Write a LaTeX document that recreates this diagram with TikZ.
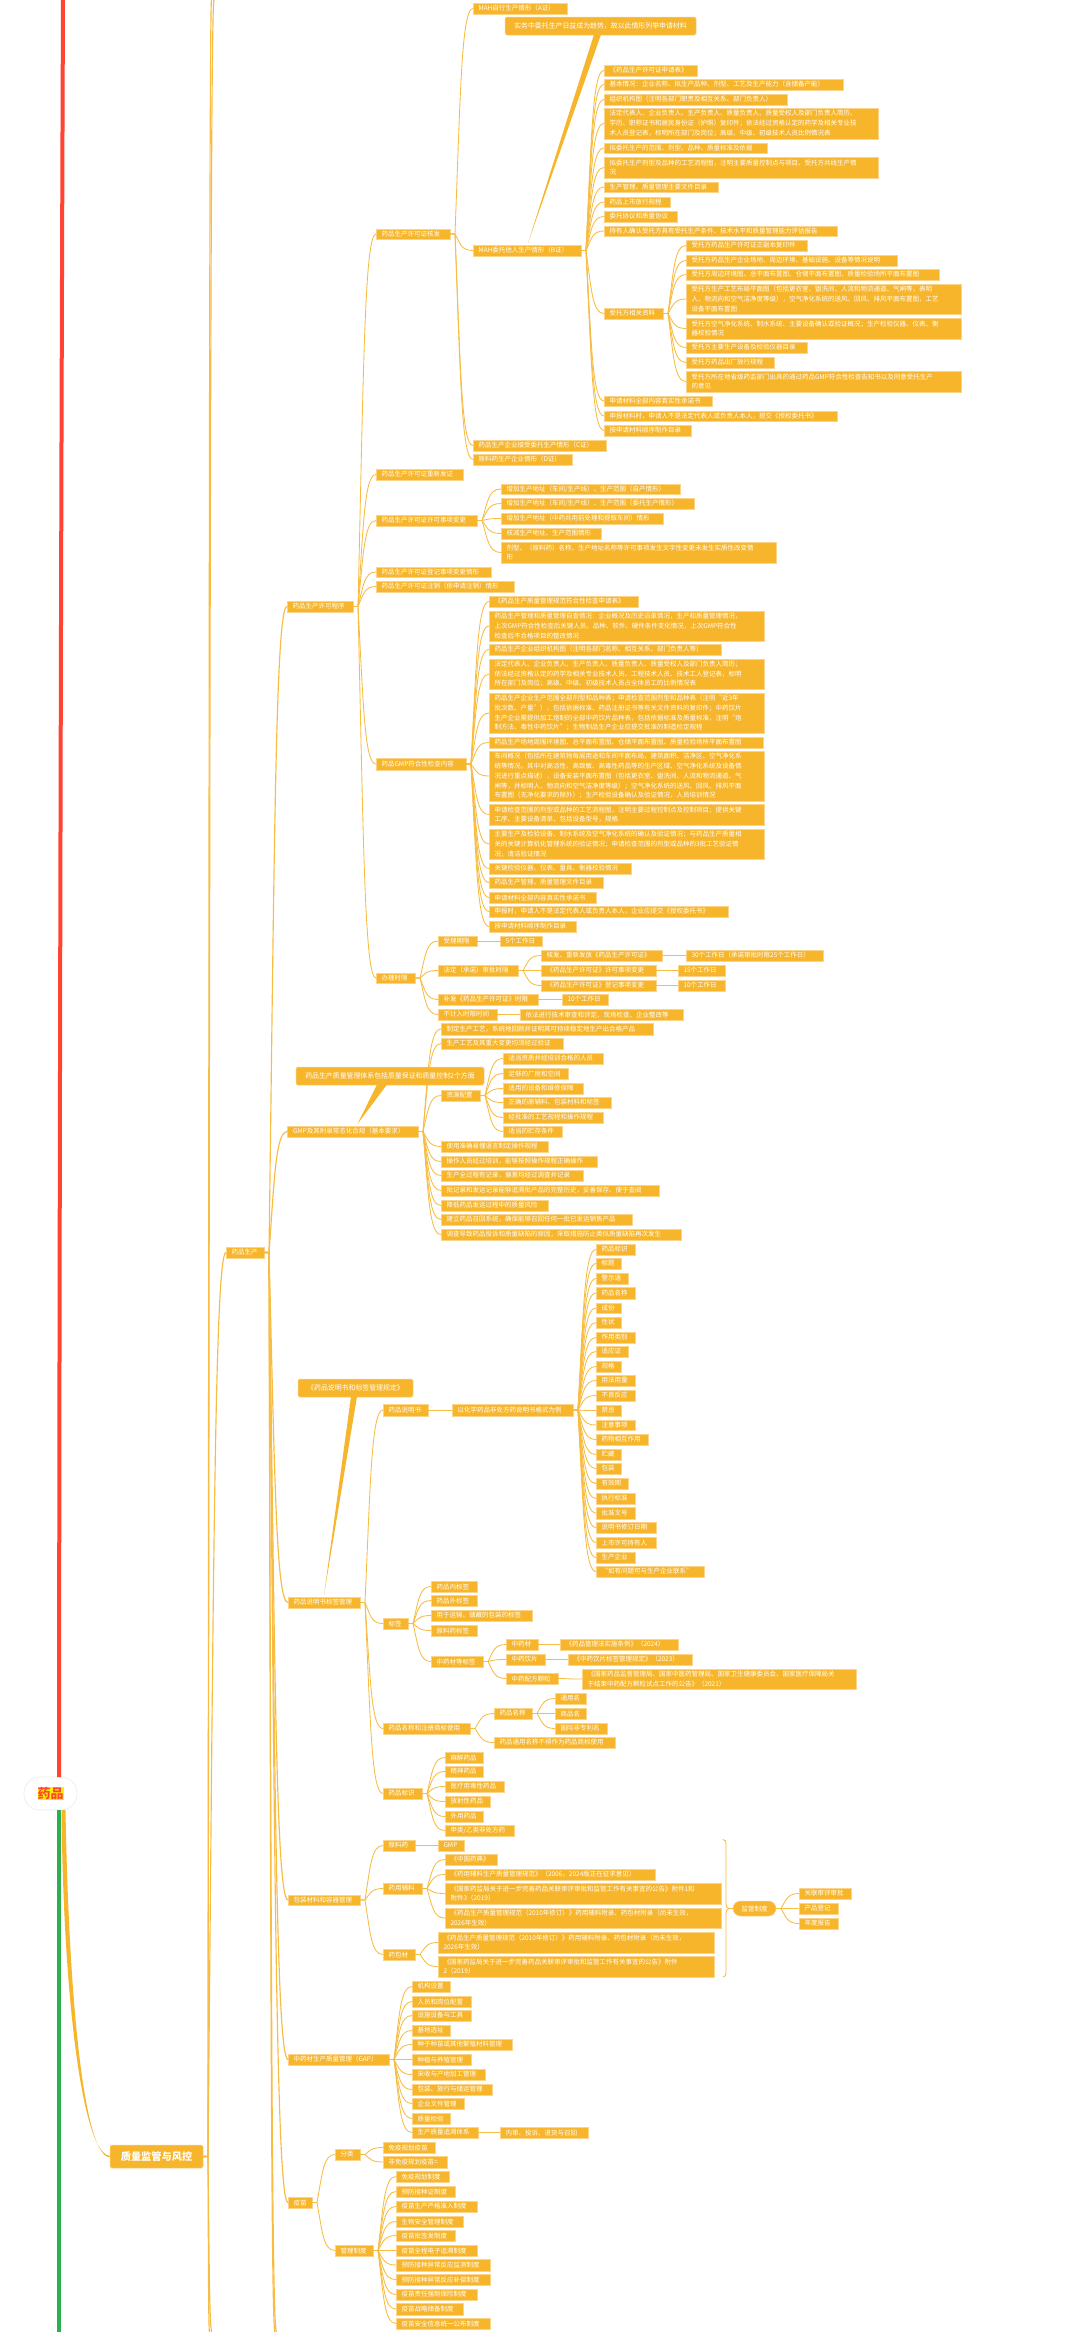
\documentclass[tikz,border=0pt]{standalone}
\usepackage{fontspec}
\setmainfont{Noto Sans CJK SC}
\usetikzlibrary{calc}
\definecolor{orangeF}{HTML}{F7B52B}
\definecolor{orangeL}{HTML}{FBD48A}
\definecolor{lineO}{HTML}{F8BC42}
\definecolor{redL}{HTML}{FF4433}
\definecolor{greenL}{HTML}{2BB04F}
\tikzset{
 bx/.style={rectangle,fill=orangeF,draw=orangeL,line width=.5pt,inner xsep=5.5pt,inner ysep=0pt,outer sep=0pt,
   text=white,align=left,font=\fontsize{6.5}{9.75}\selectfont},
 callout/.style={bx,rounded corners=1.5pt,font=\fontsize{6.9}{9.75}\selectfont,align=center},
 topicbox/.style={bx,rounded corners=1.5pt,font=\fontsize{10.2}{12}\selectfont\bfseries,align=center},
 pillbox/.style={bx,rounded corners=7.4pt,align=center},
 rootpill/.style={rectangle,rounded corners=16pt,fill=white,draw=black!7,line width=.7pt,inner sep=0pt,outer sep=0pt,
   minimum width=53pt,minimum height=33pt,align=center},
 con/.style={draw=lineO,line width=.85pt,line cap=round},
 conb/.style={draw=lineO,line width=1.15pt,line cap=round},
 freeend/.style={inner sep=0pt,minimum size=0pt,outer sep=0pt}
}
\newcommand\nd[7][bx]{%
 \pgfmathsetmacro\nw{#5-#3}\pgfmathsetmacro\nh{#6-#4}%
 \pgfmathsetmacro\cxx{(#3+#5)/2}\pgfmathsetmacro\cyy{(#4+#6)/2}%
 \node[#1,minimum width=\nw pt,minimum height=\nh pt,text width=\nw pt-11pt] (#2) at (\cxx,\cyy) {#7};}
\newcommand\lk[3][con]{%
 \draw[#1] let \p1=(#2.east),\p2=(#3.west),\n1={\x2-\x1-5pt},\n2={\y2-\y1} in
  (\p1) -- (\x1+5pt,\y1) .. controls (\x1+5pt+.3*\n1,\y1+.62*\n2) and (\x1+5pt+.36*\n1,\y2) .. (\p2);}
\newcommand\lks[3][con]{\foreach \cc in {#3}{\lk[#1]{#2}{\cc}}}
\begin{document}
\begin{tikzpicture}[x=1pt,y=-1pt]
\useasboundingbox (0,0) rectangle (1080,2332);
\fill[white] (0,0) rectangle (1080,2332);
% free ends of branches running off the page
\coordinate (rtop) at (63,0);
\coordinate (gbot) at (59,2332);
\node[freeend] (qt1) at (211.5,0) {};
\node[freeend] (qt2) at (214,0) {};
\node[freeend] (qb1) at (209.5,2332) {};
\node[freeend] (qb2) at (212,2332) {};
\node[freeend] (mb1) at (275,2332) {};
\node[freeend] (mb2) at (276.5,2332) {};
% root
\node[rootpill] (root) at (50.5,1793.5) {\setlength{\fboxsep}{0pt}\colorbox{yellow}{\fontsize{13}{15}\selectfont\bfseries\textcolor{redL}{药品}}};
\draw[redL,line width=4pt] (root.north -| gbot) .. controls (59.5,1200) and (61,500) .. (rtop);
\draw[greenL,line width=4pt] (root.south -| gbot) -- (gbot);
\nd[topicbox]{q}{110}{2145}{203}{2168}{质量监管与风控}
\fill[orangeF] (61.5,1810) .. controls (63.5,2010) and (84,2155.2) .. ($(q.west)+(0,-.7)$) -- ($(q.west)+(0,.7)$) .. controls (85,2158) and (69,2010) .. (65.5,1810) -- cycle;
\nd{m}{226}{1247}{264}{1258}{药品生产}
% level: programme
\nd{p}{287}{601}{353}{612}{药品生产许可程序}
\nd{hf}{376}{229}{450}{239}{药品生产许可证核发}
\nd{hA}{473}{3}{567}{14}{MAH自行生产情形（A证）}
\nd{hB}{473}{245}{581}{256}{MAH委托他人生产情形（B证）}
\nd{hC}{473}{440}{606}{451}{药品生产企业接受委托生产情形（C证）}
\nd{hD}{473}{454}{572}{465}{原料药生产企业情形（D证）}
\nd{b1}{604}{65}{697}{76}{《药品生产许可证申请表》}
\nd{b2}{604}{79}{843}{90}{基本情况：企业名称、拟生产品种、剂型、工艺及生产能力（含储备产能）}
\nd{b3}{604}{94}{787}{105}{组织机构图（注明各部门职责及相互关系、部门负责人）}
\nd{b4}{604}{108}{878}{139}{法定代表人、企业负责人、生产负责人、质量负责人、质量受权人及部门负责人简历、\\学历、职称证书和居民身份证（护照）复印件；依法经过资格认定的药学及相关专业技\\术人员登记表，标明所在部门及岗位；高级、中级、初级技术人员比例情况表}
\nd{b5}{604}{143}{767}{153}{拟委托生产的范围、剂型、品种、质量标准及依据}
\nd{b6}{604}{157}{878}{178}{拟委托生产剂型及品种的工艺流程图，注明主要质量控制点与项目、受托方共线生产情\\况}
\nd{b7}{604}{182}{718}{192}{生产管理、质量管理主要文件目录}
\nd{b8}{604}{197}{670}{207}{药品上市放行规程}
\nd{b9}{604}{211}{677}{222}{委托协议和质量协议}
\nd{b10}{604}{226}{837}{236}{持有人确认受托方具有受托生产条件、技术水平和质量管理能力评估报告}
\nd{b11}{604}{308}{663}{319}{受托方相关资料}
\nd{b12}{604}{396}{712}{406}{申请材料全部内容真实性承诺书}
\nd{b13}{604}{411}{837}{421}{申报材料时，申请人不是法定代表人或负责人本人，提交《授权委托书》}
\nd{b14}{604}{425}{691}{436}{按申请材料顺序制作目录}
\nd{t1}{686}{240}{807}{251}{受托方药品生产许可证正副本复印件}
\nd{t2}{686}{255}{897}{266}{受托方药品生产企业场地、周边环境、基础设施、设备等情况说明}
\nd{t3}{686}{269}{939}{280}{受托方周边环境图、总平面布置图、仓储平面布置图、质量检验场所平面布置图}
\nd{t4}{686}{284}{961}{314}{受托方生产工艺布局平面图（包括更衣室、盥洗间、人流和物流通道、气闸等，表明\\人、物流向和空气洁净度等级），空气净化系统的送风、回风、排风平面布置图，工艺\\设备平面布置图}
\nd{t5}{686}{318}{961}{339}{受托方空气净化系统、制水系统、主要设备确认或验证概况；生产检验仪器、仪表、衡\\器校验情况}
\nd{t6}{686}{342}{807}{353}{受托方主要生产设备及检验仪器目录}
\nd{t7}{686}{357}{774}{368}{受托方药品出厂放行规程}
\nd{t8}{686}{371}{961}{392}{受托方所在地省级药监部门出具的通过药品GMP符合性检查告知书以及同意受托生产\\的意见}
\nd{re}{376}{469}{463}{480}{药品生产许可证重新发证}
\nd{ch}{376}{515}{477}{526}{药品生产许可证许可事项变更}
\nd{c1}{501}{484}{680}{494}{增加生产地址（车间/生产线）、生产范围（自产情形）}
\nd{c2}{501}{498}{694}{509}{增加生产地址（车间/生产线）、生产范围（委托生产情形）}
\nd{c3}{501}{513}{663}{524}{增加生产地址（中药共用前处理和提取车间）情形}
\nd{c4}{501}{528}{601}{539}{核减生产地址、生产范围情形}
\nd{c5}{501}{542}{776}{563}{剂型、（原料药）名称、生产地址名称等许可事项发生文字性变更未发生实质性改变情\\形}
\nd{dj}{376}{567}{491}{577}{药品生产许可证登记事项变更情形}
\nd{zx}{376}{581}{514}{592}{药品生产许可证注销（依申请注销）情形}
\nd{g}{376}{758}{466}{770}{药品GMP符合性检查内容}
\nd{g1}{489}{596}{638}{607}{《药品生产质量管理规范符合性检查申请表》}
\nd{g2}{489}{611}{764}{641}{药品生产管理和质量管理自查情况：企业概况及历史沿革情况，生产和质量管理情况，\\上次GMP符合性检查后关键人员、品种、软件、硬件条件变化情况，上次GMP符合性\\检查后不合格项目的整改情况}
\nd{g3}{489}{644}{721}{655}{药品生产企业组织机构图（注明各部门名称、相互关系、部门负责人等）}
\nd{g4}{489}{659}{764}{689}{法定代表人、企业负责人、生产负责人、质量负责人、质量受权人及部门负责人简历；\\依法经过资格认定的药学及相关专业技术人员、工程技术人员、技术工人登记表，标明\\所在部门及岗位；高级、中级、初级技术人员占全体员工的比例情况表}
\nd{g5}{489}{693}{764}{733}{药品生产企业生产范围全部剂型和品种表；申请检查范围剂型和品种表（注明“近3年\\批次数、产量”），包括依据标准、药品注册证书等有关文件资料的复印件；中药饮片\\生产企业需提供加工炮制的全部中药饮片品种表，包括依据标准及质量标准，注明“炮\\制方法、毒性中药饮片”；生物制品生产企业应提交批准的制造检定规程}
\nd{g6}{489}{737}{763}{748}{药品生产场地周围环境图、总平面布置图、仓储平面布置图、质量检验场所平面布置图}
\nd{g7}{489}{751}{764}{801}{车间概况（包括所在建筑物每层用途和车间平面布局、建筑面积、洁净区、空气净化系\\统等情况。其中对高活性、高致敏、高毒性药品等的生产区域、空气净化系统及设备情\\况进行重点描述），设备安装平面布置图（包括更衣室、盥洗间、人流和物流通道、气\\闸等，并标明人、物流向和空气洁净度等级）；空气净化系统的送风、回风、排风平面\\布置图（无净化要求的除外）；生产检验设备确认及验证情况，人员培训情况}
\nd{g8}{489}{804}{764}{825}{申请检查范围的剂型或品种的工艺流程图，注明主要过程控制点及控制项目；提供关键\\工序、主要设备清单，包括设备型号，规格}
\nd{g9}{489}{829}{764}{859}{主要生产及检验设备、制水系统及空气净化系统的确认及验证情况；与药品生产质量相\\关的关键计算机化管理系统的验证情况；申请检查范围的剂型或品种的3批工艺验证情\\况，清洁验证情况}
\nd{g10}{489}{863}{631}{874}{关键检验仪器、仪表、量具、衡器校验情况}
\nd{g11}{489}{877}{603}{888}{药品生产管理、质量管理文件目录}
\nd{g12}{489}{892}{596}{903}{申请材料全部内容真实性承诺书}
\nd{g13}{489}{906}{728}{917}{申报时，申请人不是法定代表人或负责人本人，企业应提交《授权委托书》}
\nd{g14}{489}{921}{576}{932}{按申请材料顺序制作目录}
\nd{bl}{376}{973}{415}{983}{办理时限}
\nd{l1}{438}{936}{477}{946}{受理期限}
\nd{l1a}{500}{936}{542}{946}{5个工作日}
\nd{l2}{438}{965}{518}{976}{法定（承诺）审批时限}
\nd{l21}{541}{950}{662}{961}{核发、重新发放《药品生产许可证》}
\nd{l21a}{686}{950}{823}{961}{30个工作日（承诺审批时限25个工作日）}
\nd{l22}{541}{965}{656}{976}{《药品生产许可证》许可事项变更}
\nd{l22a}{678}{965}{725}{976}{15个工作日}
\nd{l23}{541}{980}{656}{991}{《药品生产许可证》登记事项变更}
\nd{l23a}{678}{980}{725}{991}{10个工作日}
\nd{l3}{438}{994}{538}{1005}{补发《药品生产许可证》时限}
\nd{l3a}{562}{994}{608}{1005}{10个工作日}
\nd{l4}{438}{1009}{497}{1020}{不计入时限时间}
\nd{l4a}{520}{1009}{683}{1020}{依法进行技术审查和评定、现场检查、企业整改等}
% GMP
\nd{gm}{287.5}{1126}{418}{1137}{GMP及其附录常态化合规（基本要求）}
\nd{m1}{441}{1023}{653}{1035}{制定生产工艺，系统地回顾并证明其可持续稳定地生产出合格产品}
\nd{m2}{441}{1038}{563}{1049}{生产工艺及其重大变更均须经过验证}
\nd{m3}{441}{1090}{480}{1101}{资源配置}
\nd{r1}{503}{1053}{603}{1064}{适当资质并经培训合格的人员}
\nd{r2}{503}{1068}{568}{1079}{足够的厂房和空间}
\nd{r3}{503}{1083}{583}{1094}{适用的设备和维修保障}
\nd{r4}{503}{1097}{611}{1108}{正确的原辅料、包装材料和标签}
\nd{r5}{503}{1112}{603}{1123}{经批准的工艺规程和操作规程}
\nd{r6}{503}{1126}{562}{1137}{适当的贮存条件}
\nd{m4}{441}{1141}{548}{1152}{使用准确易懂语言制定操作规程}
\nd{m5}{441}{1156}{597}{1167}{操作人员经过培训，能够按照操作规程正确操作}
\nd{m6}{441}{1170}{583}{1181}{生产全过程有记录，偏差均经过调查并记录}
\nd{m7}{441}{1185}{659}{1196}{批记录和发运记录能够追溯批产品的完整历史，妥善保存、便于查阅}
\nd{m8}{441}{1200}{548}{1211}{降低药品发运过程中的质量风险}
\nd{m9}{441}{1214}{632}{1225}{建立药品召回系统，确保能够召回任何一批已发运销售产品}
\nd{m10}{441}{1229}{681}{1240}{调查导致药品投诉和质量缺陷的原因，采取措施防止类似质量缺陷再次发生}
% labelling
\nd{la}{288}{1597}{360}{1608}{药品说明书标签管理}
\nd{ls}{383}{1404}{428}{1416}{药品说明书}
\nd{lt}{452}{1404}{573}{1416}{以化学药品非处方药说明书格式为例}
\nd{s1}{596}{1244}{635}{1255}{药品标识}
\nd{s2}{596}{1258}{621}{1269}{标题}
\nd{s3}{596}{1273}{628}{1284}{警示语}
\nd{s4}{596}{1287}{635}{1299}{药品名称}
\nd{s5}{596}{1303}{621}{1313}{成份}
\nd{s6}{596}{1317}{621}{1328}{性状}
\nd{s7}{596}{1332}{635}{1343}{作用类别}
\nd{s8}{596}{1346}{628}{1357}{适应证}
\nd{s9}{596}{1361}{621}{1372}{规格}
\nd{s10}{596}{1375}{635}{1386}{用法用量}
\nd{s11}{596}{1390}{635}{1401}{不良反应}
\nd{s12}{596}{1405}{621}{1416}{禁忌}
\nd{s13}{596}{1420}{635}{1430}{注意事项}
\nd{s14}{596}{1434}{648}{1445}{药物相互作用}
\nd{s15}{596}{1449}{621}{1460}{贮藏}
\nd{s16}{596}{1463}{621}{1474}{包装}
\nd{s17}{596}{1478}{628}{1489}{有效期}
\nd{s18}{596}{1493}{635}{1504}{执行标准}
\nd{s19}{596}{1507}{635}{1519}{批准文号}
\nd{s20}{596}{1522}{656}{1533}{说明书修订日期}
\nd{s21}{596}{1537}{656}{1548}{上市许可持有人}
\nd{s22}{596}{1552}{635}{1563}{生产企业}
\nd{s23}{596}{1566}{704}{1577}{“如有问题可与生产企业联系”}
\nd{lb}{383}{1618}{408}{1629}{标签}
\nd{lb1}{431}{1581}{477}{1592}{药品内标签}
\nd{lb2}{431}{1595}{477}{1606}{药品外标签}
\nd{lb3}{431}{1610}{532}{1621}{用于运输、储藏的包装的标签}
\nd{lb4}{431}{1625}{477}{1636}{原料药标签}
\nd{lb5}{431}{1656}{483}{1667}{中药材等标签}
\nd{z1}{506}{1639}{538}{1650}{中药材}
\nd{z1a}{560}{1639}{678}{1650}{《药品管理法实施条例》（2024）}
\nd{z2}{506}{1654}{545}{1665}{中药饮片}
\nd{z2a}{568}{1654}{692}{1665}{《中药饮片标签管理规定》（2023）}
\nd{z3}{506}{1673}{558}{1684}{中药配方颗粒}
\nd{z3a}{582}{1669}{856}{1689}{《国家药品监督管理局、国家中医药管理局、国家卫生健康委员会、国家医疗保障局关\\于结束中药配方颗粒试点工作的公告》（2021）}
\nd{n}{383}{1723}{470}{1734}{药品名称和注册商标使用}
\nd{n1}{494}{1708}{532}{1719}{药品名称}
\nd{n11}{555}{1693}{586}{1704}{通用名}
\nd{n12}{555}{1708}{586}{1719}{商品名}
\nd{n13}{555}{1723}{607}{1734}{国际非专利名}
\nd{n2}{494}{1737}{615}{1748}{药品通用名称不得作为药品商标使用}
\nd{bs}{383}{1788}{422}{1799}{药品标识}
\nd{bs1}{445}{1752}{483}{1763}{麻醉药品}
\nd{bs2}{445}{1766}{483}{1777}{精神药品}
\nd{bs3}{445}{1781}{504}{1792}{医疗用毒性药品}
\nd{bs4}{445}{1796}{490}{1807}{放射性药品}
\nd{bs5}{445}{1811}{483}{1822}{外用药品}
\nd{bs6}{445}{1825}{514}{1836}{甲类/乙类非处方药}
% packaging
\nd{pk}{288}{1895}{360}{1905}{包装材料和容器管理}
\nd{k1}{383}{1840}{415}{1851}{原料药}
\nd{k1a}{438}{1840}{464}{1851}{GMP}
\nd{k2}{383}{1883}{422}{1894}{药用辅料}
\nd{k21}{445}{1854}{497}{1865}{《中国药典》}
\nd{k22}{445}{1869}{655}{1880}{《药用辅料生产质量管理规范》（2006，2024版正在征求意见）}
\nd{k23}{445}{1883}{721}{1904}{《国家药监局关于进一步完善药品关联审评审批和监管工作有关事宜的公告》附件1和\\附件3（2019）}
\nd{k24}{445}{1908}{721}{1928}{《药品生产质量管理规范（2010年修订）》药用辅料附录、药包材附录（尚未生效，\\2026年生效）}
\nd{k3}{383}{1949}{415}{1960}{药包材}
\nd{k31}{438}{1932}{714}{1953}{《药品生产质量管理规范（2010年修订）》药用辅料附录、药包材附录（尚未生效，\\2026年生效）}
\nd{k32}{438}{1956}{714}{1977}{《国家药监局关于进一步完善药品关联审评审批和监管工作有关事宜的公告》附件\\2（2019）}
\nd[pillbox]{jg}{733}{1901}{776}{1916}{监管制度}
\nd{j1}{799}{1888}{851}{1899}{关联审评审批}
\nd{j2}{799}{1903}{838}{1914}{产品登记}
\nd{j3}{799}{1918}{838}{1929}{年度报告}
% GAP
\nd{ga}{288}{2054}{389}{2065}{中药材生产质量管理（GAP）}
\nd{a1}{412}{1981}{450}{1992}{机构设置}
\nd{a2}{412}{1996}{471}{2007}{人员和岗位配置}
\nd{a3}{412}{2010}{471}{2021}{设施设备与工具}
\nd{a4}{412}{2025}{450}{2036}{基地选址}
\nd{a5}{412}{2039}{512}{2050}{种子种苗或其他繁殖材料管理}
\nd{a6}{412}{2054}{471}{2065}{种植与养殖管理}
\nd{a7}{412}{2069}{485}{2080}{采收与产地加工管理}
\nd{a8}{412}{2084}{492}{2095}{包装、放行与储运管理}
\nd{a9}{412}{2098}{464}{2109}{企业文件管理}
\nd{a10}{412}{2113}{450}{2124}{质量检验}
\nd{a11}{412}{2127}{478}{2138}{生产质量追溯体系}
\nd{a11a}{500}{2127}{588}{2138}{内审、投诉、退货与召回}
% vaccine
\nd{v}{288}{2197}{312}{2208}{疫苗}
\nd{vf}{335}{2149}{360}{2160}{分类}
\nd{vf1}{383}{2142}{435}{2153}{免疫规划疫苗}
\nd{vf2}{383}{2156}{447}{2168}{非免疫规划疫苗=}
\nd{vm}{335}{2245}{373}{2256}{管理制度}
\nd{w1}{396}{2171}{449}{2182}{免疫规划制度}
\nd{w2}{396}{2186}{455}{2197}{预防接种证制度}
\nd{w3}{396}{2201}{477}{2212}{疫苗生产严格准入制度}
\nd{w4}{396}{2216}{463}{2227}{生物安全管理制度}
\nd{w5}{396}{2230}{455}{2241}{疫苗批签发制度}
\nd{w6}{396}{2245}{477}{2256}{疫苗全程电子追溯制度}
\nd{w7}{396}{2259}{490}{2271}{预防接种异常反应监测制度}
\nd{w8}{396}{2274}{490}{2285}{预防接种异常反应补偿制度}
\nd{w9}{396}{2289}{477}{2300}{疫苗责任强制保险制度}
\nd{w10}{396}{2303}{463}{2315}{疫苗战略储备制度}
\nd{w11}{396}{2318}{490}{2329}{疫苗安全信息统一公布制度}
% connectors
\lks[conb]{q}{m,qt1,qt2,qb1,qb2}
\lks[conb]{m}{p,gm,la,pk,ga,v,mb1,mb2}
\lks{p}{hf,re,ch,dj,zx,g,bl}
\lks{hf}{hA,hB,hC,hD}
\lks{hB}{b1,b2,b3,b4,b5,b6,b7,b8,b9,b10,b11,b12,b13,b14}
\lks{b11}{t1,t2,t3,t4,t5,t6,t7,t8}
\lks{ch}{c1,c2,c3,c4,c5}
\lks{g}{g1,g2,g3,g4,g5,g6,g7,g8,g9,g10,g11,g12,g13,g14}
\lks{bl}{l1,l2,l3,l4}
\lk{l1}{l1a}
\lks{l2}{l21,l22,l23}
\lk{l21}{l21a}\lk{l22}{l22a}\lk{l23}{l23a}\lk{l3}{l3a}\lk{l4}{l4a}
\lks{gm}{m1,m2,m3,m4,m5,m6,m7,m8,m9,m10}
\lks{m3}{r1,r2,r3,r4,r5,r6}
\lks{la}{ls,lb,n,bs}
\lk{ls}{lt}
\lks{lt}{s1,s2,s3,s4,s5,s6,s7,s8,s9,s10,s11,s12,s13,s14,s15,s16,s17,s18,s19,s20,s21,s22,s23}
\lks{lb}{lb1,lb2,lb3,lb4,lb5}
\lks{lb5}{z1,z2,z3}
\lk{z1}{z1a}\lk{z2}{z2a}\lk{z3}{z3a}
\lks{n}{n1,n2}
\lks{n1}{n11,n12,n13}
\lks{bs}{bs1,bs2,bs3,bs4,bs5,bs6}
\lks{pk}{k1,k2,k3}
\lk{k1}{k1a}
\lks{k2}{k21,k22,k23,k24}
\lks{k3}{k31,k32}
\lks{jg}{j1,j2,j3}
\lks{ga}{a1,a2,a3,a4,a5,a6,a7,a8,a9,a10,a11}
\lk{a11}{a11a}
\lks{v}{vf,vm}
\lks{vf}{vf1,vf2}
\lks{vm}{w1,w2,w3,w4,w5,w6,w7,w8,w9,w10,w11}
% brace to the summary topic
\coordinate (brT) at (723,1839.5);
\coordinate (brB) at (723,1977);
\draw[con] (brT) .. controls (725.5,1840) and (726,1841) .. (726,1844) -- (726,1903.5) .. controls (726,1906.5) and (727,1908) .. (729,1908.5) .. controls (727,1909) and (726,1910.5) .. (726,1913.5) -- (726,1972.5) .. controls (726,1975.5) and (725.5,1976.5) .. (brB);
\draw[con] (729,1908.5) -- (jg.west);
% callouts
\nd[callout]{co1}{505}{17}{696}{35}{实务中委托生产日益成为趋势，故以此情形列举申请材料}
\coordinate (tip1) at (528,243);
\fill[orangeF] (594,34.5) -- (tip1) -- (601,34.5) -- cycle;
\nd[callout]{co2}{296}{1067}{484}{1085}{药品生产质量管理体系包括质量保证和质量控制2个方面}
\coordinate (tip2) at (357.5,1124);
\fill[orangeF] (377,1084.5) -- (tip2) -- (387,1084.5) -- cycle;
\nd[callout]{co3}{298}{1379}{413}{1397}{《药品说明书和标签管理规定》}
\coordinate (tip3) at (324,1595);
\fill[orangeF] (351,1396.5) -- (tip3) -- (357,1396.5) -- cycle;
\end{tikzpicture}
\end{document}
